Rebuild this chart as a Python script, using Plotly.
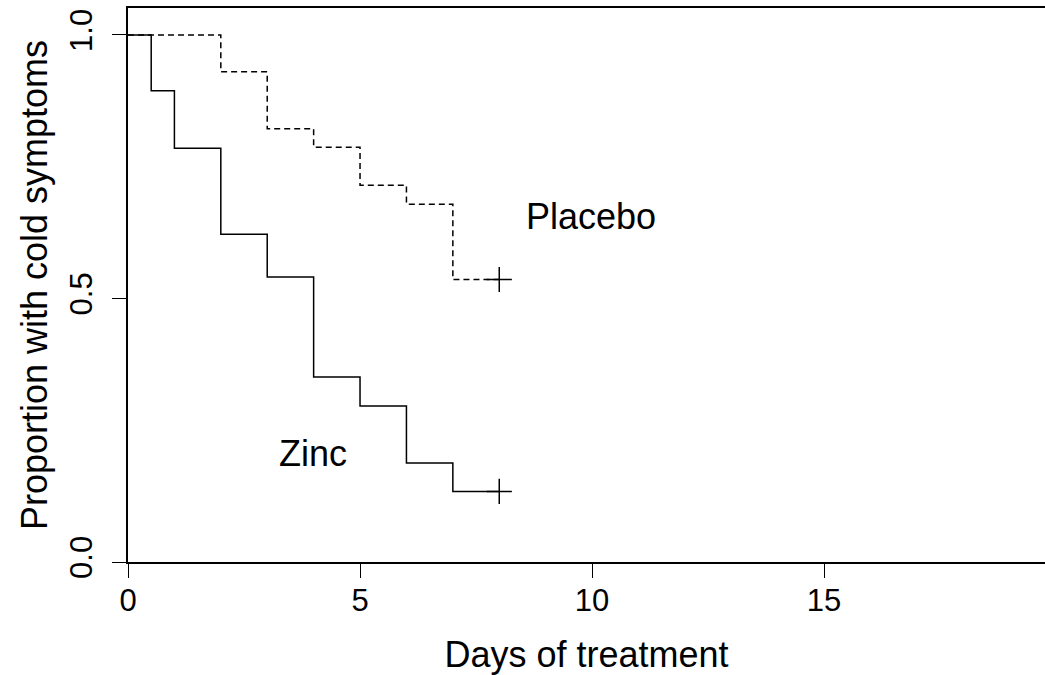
import plotly.graph_objects as go

# Kaplan-Meier step data
zinc_days = [0, 0.5, 1, 2, 3, 4, 5, 6, 7, 8]
zinc_prop = [1.0, 0.894, 0.785, 0.622, 0.541, 0.351, 0.296, 0.188, 0.134, 0.134]
placebo_days = [0, 2, 3, 4, 5, 6, 7, 8]
placebo_prop = [1.0, 0.930, 0.822, 0.787, 0.715, 0.679, 0.536, 0.536]
censor_day = 8
x_ticks = [0, 5, 10, 15]
y_ticks = [0.0, 0.5, 1.0]
y_tick_text = ["0.0", "0.5", "1.0"]

FONT = "Liberation Sans, Arial, Helvetica, sans-serif"

fig = go.Figure()
fig.add_trace(go.Scatter(x=zinc_days, y=zinc_prop, mode="lines",
                         line=dict(shape="hv", color="black", width=1.5),
                         showlegend=False, hoverinfo="skip"))
fig.add_trace(go.Scatter(x=placebo_days, y=placebo_prop, mode="lines",
                         line=dict(shape="hv", color="black", width=1.5, dash="6px,4px"),
                         showlegend=False, hoverinfo="skip"))
fig.add_trace(go.Scatter(x=[censor_day, censor_day], y=[zinc_prop[-1], placebo_prop[-1]],
                         mode="markers",
                         marker=dict(symbol="cross-thin", size=18,
                                     line=dict(color="black", width=1.5)),
                         showlegend=False, hoverinfo="skip"))

fig.add_annotation(x=9.98, y=0.655, text="Placebo", showarrow=False,
                   font=dict(family=FONT, size=36, color="black"),
                   xanchor="center", yanchor="middle")
fig.add_annotation(x=3.98, y=0.205, text="Zinc", showarrow=False,
                   font=dict(family=FONT, size=36, color="black"),
                   xanchor="center", yanchor="middle")

fig.update_layout(
    width=1045, height=675,
    margin=dict(l=128, r=0, t=8, b=113),
    paper_bgcolor="white", plot_bgcolor="white",
    font=dict(family=FONT, color="black"),
    xaxis=dict(range=[0, 19.76], tickvals=x_ticks, ticks="outside", ticklen=14,
               tickwidth=1.2, tickcolor="black", automargin=False, ticklabelstandoff=-4,
               showline=True, linecolor="black", linewidth=1.5, mirror=True,
               showgrid=False, zeroline=False,
               tickfont=dict(size=31, family=FONT),
               title=dict(text="Days of treatment", font=dict(size=36, family=FONT), standoff=26)),
    yaxis=dict(range=[0, 1.0512], tickvals=y_ticks, ticktext=y_tick_text,
               ticks="outside", ticklen=14, tickwidth=1.2, tickcolor="black",
               tickangle=-90, automargin=False, ticklabelstandoff=8,
               showline=True, linecolor="black", linewidth=1.5, mirror=False,
               showgrid=False, zeroline=False,
               tickfont=dict(size=31, family=FONT),
               title=dict(text="Proportion with cold symptoms", font=dict(size=36, family=FONT), standoff=5)),
)

fig.write_html("out.html", config={"displayModeBar": False},
               post_script="document.body.style.margin='0';document.body.style.overflow='hidden';")
